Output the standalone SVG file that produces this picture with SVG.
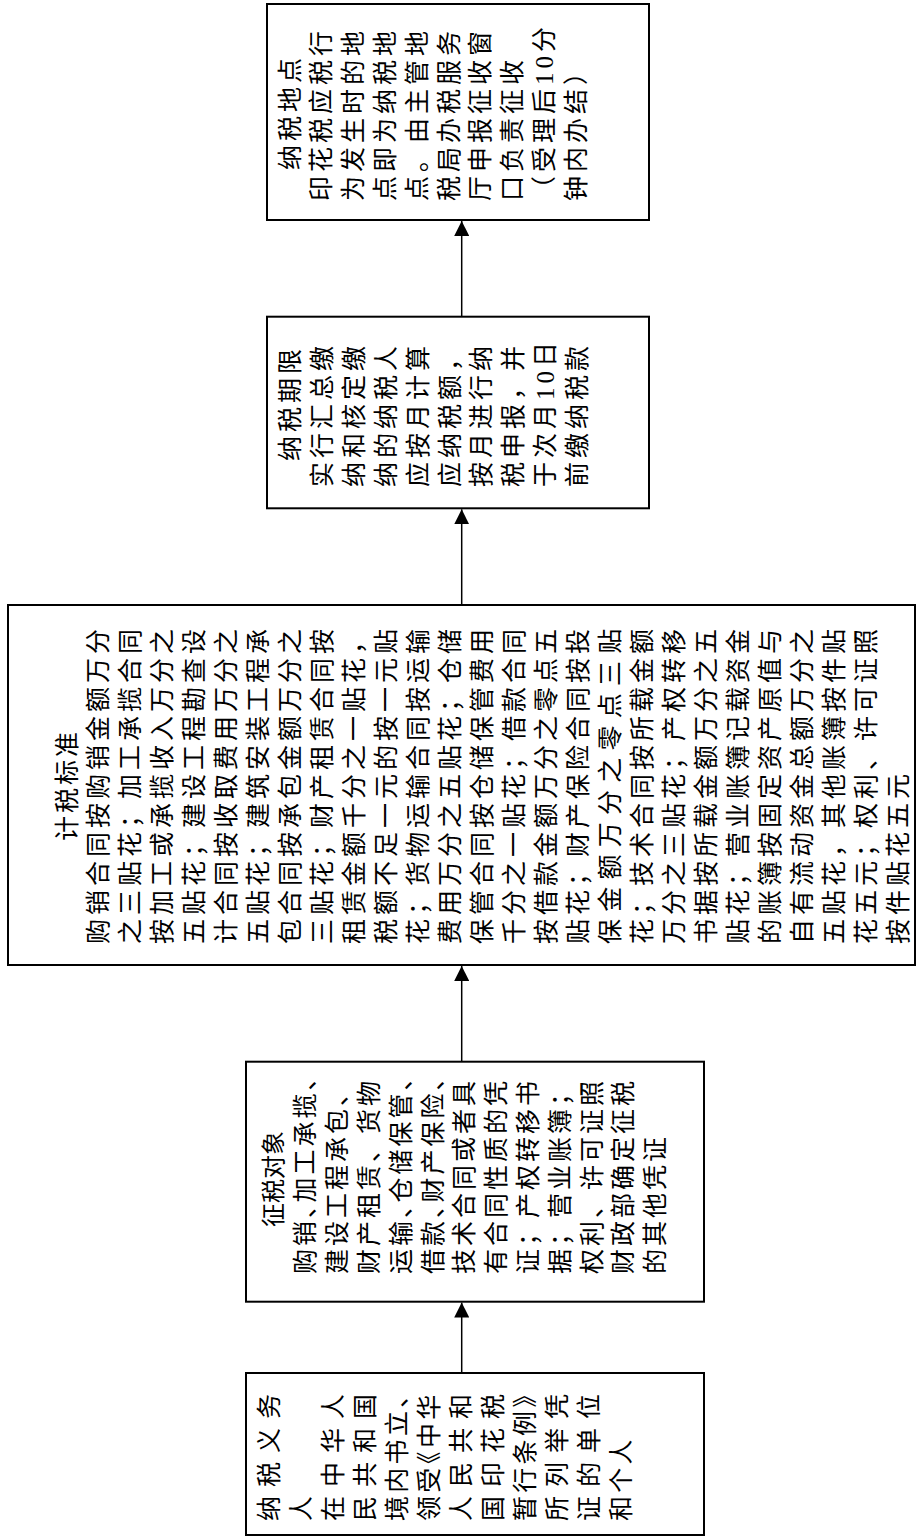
<svg xmlns="http://www.w3.org/2000/svg" width="917" height="1539" viewBox="0 0 917 1539">
<defs>
<style>
.box{fill:#fff;stroke:#000;stroke-width:2}
.t{font-family:"Liberation Serif","Noto Sans CJK SC",serif;font-size:25px;fill:#000}
.edge{stroke:#000;stroke-width:1.5;fill:none}
</style>
<marker id="ah" markerUnits="userSpaceOnUse" viewBox="0 0 15 15" markerWidth="15" markerHeight="15" refX="15" refY="7.5" orient="auto">
<path d="M0,0L15,7.5L0,15z" fill="#000"/>
</marker>
</defs>
<rect x="0" y="0" width="917" height="1539" fill="#fff"/>

<g id="edges">
<line class="edge" x1="461.7" y1="1373" x2="461.7" y2="1302.5" marker-end="url(#ah)"/>
<line class="edge" x1="461.7" y1="1061.7" x2="461.7" y2="966" marker-end="url(#ah)"/>
<line class="edge" x1="461.7" y1="605" x2="461.7" y2="509.3" marker-end="url(#ah)"/>
<line class="edge" x1="461.7" y1="316.7" x2="461.7" y2="221" marker-end="url(#ah)"/>
</g>

<g id="node-didian">
<rect class="box" x="267" y="4" width="382" height="216"/>
<g transform="translate(0,1539) rotate(-90)" class="t" style="letter-spacing:4px">
<text x="1427" y="298.5" text-anchor="middle">纳税地点</text>
<text x="1338" y="330.3">印花税应税行</text>
<text x="1338" y="362.1">为发生时的地</text>
<text x="1338" y="393.9">点即为纳税地</text>
<text x="1338" y="425.7">点。由主管地</text>
<text x="1338" y="457.5">税局办税服务</text>
<text x="1338" y="489.3">厅申报征收窗</text>
<text x="1338" y="521.1">口负责征收</text>
<text x="1338" y="552.9">（受理后10分</text>
<text x="1338" y="584.7">钟内办结）</text>
</g>
</g>

<g id="node-qixian">
<rect class="box" x="267" y="316.7" width="382" height="191.6"/>
<g transform="translate(0,1539) rotate(-90)" class="t" style="letter-spacing:4px">
<text x="1078" y="299">纳税期限</text>
<text x="1052" y="330.9">实行汇总缴</text>
<text x="1052" y="362.8">纳和核定缴</text>
<text x="1052" y="394.7">纳的纳税人</text>
<text x="1052" y="426.6">应按月计算</text>
<text x="1052" y="458.5">应纳税额，</text>
<text x="1052" y="490.4">按月进行纳</text>
<text x="1052" y="522.3">税申报，并</text>
<text x="1052" y="554.2">于次月10日</text>
<text x="1052" y="586.1">前缴纳税款</text>
</g>
</g>

<g id="node-biaozhun">
<rect class="box" x="8" y="605" width="907" height="360"/>
<g transform="translate(0,1539) rotate(-90)" class="t" style="letter-spacing:4px">
<text x="754" y="75.5" text-anchor="middle" style="letter-spacing:3px">计税标准</text>
<text x="595" y="106.5">购销合同按购销金额万分</text>
<text x="595" y="138.5">之三贴花；加工承揽合同</text>
<text x="595" y="170.5">按加工或承揽收入万分之</text>
<text x="595" y="202.5">五贴花；建设工程勘查设</text>
<text x="595" y="234.5">计合同按收取费用万分之</text>
<text x="595" y="266.5">五贴花；建筑安装工程承</text>
<text x="595" y="298.5">包合同按承包金额万分之</text>
<text x="595" y="330.5">三贴花；财产租赁合同按</text>
<text x="595" y="362.5">租赁金额千分之一贴花，</text>
<text x="595" y="394.5">税额不足一元的按一元贴</text>
<text x="595" y="426.5">花；货物运输合同按运输</text>
<text x="595" y="458.5">费用万分之五贴花；仓储</text>
<text x="595" y="490.5">保管合同按仓储保管费用</text>
<text x="595" y="522.5">千分之一贴花；借款合同</text>
<text x="595" y="554.5">按借款金额万分之零点五</text>
<text x="595" y="586.5">贴花；财产保险合同按投</text>
<text x="595" y="618.5" style="letter-spacing:7.26px">保金额万分之零点三贴</text>
<text x="595" y="650.5">花；技术合同按所载金额</text>
<text x="595" y="682.5">万分之三贴花；产权转移</text>
<text x="595" y="714.5">书据按所载金额万分之五</text>
<text x="595" y="746.5">贴花；营业账簿记载资金</text>
<text x="595" y="778.5">的账簿按固定资产原值与</text>
<text x="595" y="810.5">自有流动资金总额万分之</text>
<text x="595" y="842.5">五贴花，其他账簿按件贴</text>
<text x="595" y="874.5">花五元；权利、许可证照</text>
<text x="595" y="906.5">按件贴花五元</text>
</g>
</g>

<g id="node-duixiang">
<rect class="box" x="246" y="1061.7" width="458" height="240"/>
<g transform="translate(0,1539) rotate(-90)" class="t" style="letter-spacing:3px">
<text x="360" y="282" text-anchor="middle" style="letter-spacing:0;font-size:24px">征税对象</text>
<text x="265" y="314.3">购销、<tspan dx="-12.5">加工承揽、</tspan></text>
<text x="265" y="346.1">建设工程承包、</text>
<text x="265" y="377.9">财产租赁、货物</text>
<text x="265" y="409.7">运输、<tspan dx="-12.5">仓储保管、</tspan></text>
<text x="265" y="441.5">借款、<tspan dx="-12.5">财产保险、</tspan></text>
<text x="265" y="473.3">技术合同或者具</text>
<text x="265" y="505.1">有合同性质的凭</text>
<text x="265" y="536.9">证；产权转移书</text>
<text x="265" y="568.7">据；营业账簿；</text>
<text x="265" y="600.5">权利、许可证照</text>
<text x="265" y="632.3">财政部确定征税</text>
<text x="265" y="664.1">的其他凭证</text>
</g>
</g>

<g id="node-yiwuren">
<rect class="box" x="246" y="1373" width="458" height="162"/>
<g transform="translate(0,1539) rotate(-90)" class="t" style="letter-spacing:3.3px">
<text x="18" y="278" style="letter-spacing:9px">纳税义务</text>
<text x="18" y="310">人</text>
<text x="18" y="342" style="letter-spacing:9px">在中华人</text>
<text x="18" y="374" style="letter-spacing:9px">民共和国</text>
<text x="18" y="406">境内书立、</text>
<text x="18" y="438">领受<tspan dx="-12">《中华</tspan></text>
<text x="18" y="470" style="letter-spacing:9px">人民共和</text>
<text x="18" y="502" style="letter-spacing:9px">国印花税</text>
<text x="18" y="534">暂行条例》</text>
<text x="18" y="566" style="letter-spacing:9px">所列举凭</text>
<text x="18" y="598" style="letter-spacing:9px">证的单位</text>
<text x="18" y="630">和个人</text>
</g>
</g>
</svg>
